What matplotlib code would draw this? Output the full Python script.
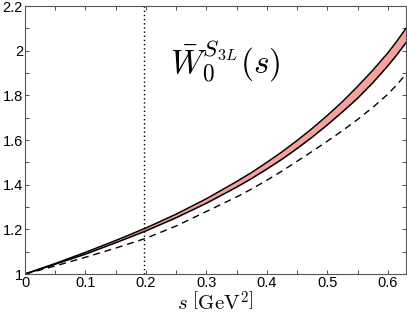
import numpy as np
import matplotlib
matplotlib.use("Agg")
import matplotlib.pyplot as plt
from matplotlib.ticker import MultipleLocator, FuncFormatter

plt.rcParams['mathtext.fontset'] = 'cm'
plt.rcParams['font.family'] = ['Liberation Sans', 'DejaVu Sans']

# values
s = [0.0, 0.05, 0.10, 0.15, 0.20, 0.25, 0.30, 0.35, 0.375, 0.40, 0.425, 0.45, 0.475,
     0.50, 0.525, 0.55, 0.575, 0.60, 0.615, 0.63]
band_upper = [1.000, 1.047, 1.097, 1.150, 1.206, 1.268, 1.337, 1.414, 1.455, 1.500, 1.547,
              1.598, 1.652, 1.710, 1.772, 1.840, 1.912, 1.990, 2.043, 2.100]
band_lower = [1.000, 1.044, 1.089, 1.140, 1.193, 1.252, 1.317, 1.389, 1.428, 1.470, 1.514,
              1.562, 1.613, 1.668, 1.726, 1.787, 1.856, 1.932, 1.982, 2.036]
dashed = [1.000, 1.036, 1.075, 1.116, 1.160, 1.215, 1.280, 1.345, 1.381, 1.420, 1.461,
          1.505, 1.549, 1.595, 1.642, 1.692, 1.746, 1.805, 1.848, 1.895]
s_vline = 0.197

fig = plt.figure(figsize=(4.07, 3.16), dpi=100)
ax = fig.add_axes([25/407, 42/316, 381/407, 268/316])

ax.fill_between(s, band_lower, band_upper, color='#f7a09c', lw=0)
ax.plot(s, band_upper, color='black', lw=1.1)
ax.plot(s, band_lower, color='black', lw=1.1)
ax.plot(s, dashed, color='black', lw=1.0, dashes=(5, 3.5))
ax.axvline(s_vline, color='black', lw=1.0, ls=(0, (1, 2)))

ax.set_xlim(0, 0.63)
ax.set_ylim(1, 2.2)
ax.xaxis.set_major_locator(MultipleLocator(0.1))
ax.xaxis.set_minor_locator(MultipleLocator(0.05))
ax.yaxis.set_major_locator(MultipleLocator(0.2))
ax.yaxis.set_minor_locator(MultipleLocator(0.1))
fmt = FuncFormatter(lambda v, p: '%g' % round(v, 2))
ax.xaxis.set_major_formatter(fmt)
ax.yaxis.set_major_formatter(fmt)
ax.tick_params(which='both', direction='in', top=True, right=True, length=3, width=0.6,
               labelsize=10.5, colors='#333333', labelcolor='black', pad=1.5)
for sp in ax.spines.values():
    sp.set_color('#555555')
    sp.set_linewidth(0.8)

ax.set_xlabel(r'$s\ \left[\mathrm{GeV}^2\right]$', fontsize=15, labelpad=0)
ax.text(0.24, 1.90, r'$\bar{W}_0^{S_{3L}}(s)$', fontsize=24)

fig.savefig('out.png', dpi=100)
